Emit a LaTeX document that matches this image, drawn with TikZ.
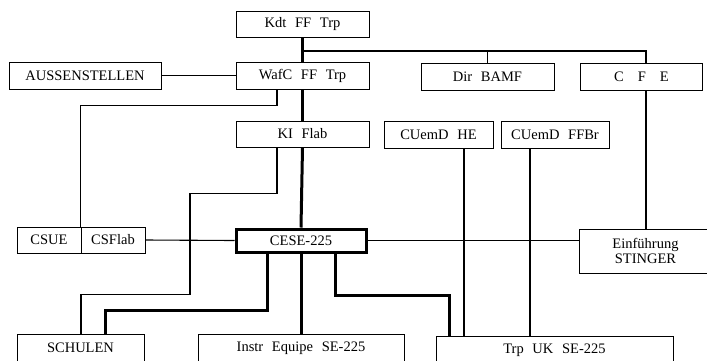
\documentclass[tikz,border=0pt]{standalone}
\usepackage{fontspec}
\setmainfont{Liberation Serif}[WordSpace=2.4]
\begin{document}
\begin{tikzpicture}[x=1pt,y=-1pt,
  box/.style={draw, line width=1pt, inner sep=0pt, minimum height=26pt,
    font=\fontsize{14.5}{17}\selectfont},
  thinline/.style={line width=1.1pt},
  thickline/.style={line width=3pt},
]
\path[use as bounding box, clip] (0,0) rectangle (707,360);
% nodes
\node[box, minimum width=133pt] (kdt) at (302.5,24) {Kdt FF Trp};
\node[box, minimum width=133pt, minimum height=27pt] (wafc) at (302.5,75.5) {WafC FF Trp};
\node[box, minimum width=152pt, minimum height=27pt] (auss) at (85,75.5) {AUSSENSTELLEN};
\node[box, minimum width=133pt, minimum height=27pt] (bamf) at (487.5,76.5) {Dir BAMF};
\node[box, minimum height=27pt, anchor=west] (cfe) at (580,76.5)
  {\makebox[122pt]{C\hspace{14pt}F\hspace{14pt}E}\hspace{40pt}};
\node[box, minimum width=133pt] (ki) at (302.5,134) {KI Flab};
\node[box, minimum width=109pt, minimum height=27pt] (he) at (438.5,134.5) {CUemD HE};
\node[box, minimum width=108pt, minimum height=27pt] (ffbr) at (555,134.5) {CUemD FFBr};
\node[box, minimum width=64pt] (csue) at (49,240) {CSUE};
\node[box, minimum width=64pt] (csflab) at (113,240) {CSFlab};
\node[box, line width=3pt, minimum width=130pt, minimum height=23pt] (cese) at (301,240.5) {CESE-225};
\node[box, minimum height=44pt, anchor=west] (einf) at (579,251)
  {\makebox[132pt]{\shortstack{Einführung\\STINGER}}\hspace{40pt}};
\node[box, minimum width=127pt, minimum height=28pt] (schulen) at (80.5,348) {SCHULEN};
\node[box, minimum width=206pt, minimum height=28pt] (instr) at (301,348) {Instr Equipe SE-225};
\node[box, minimum width=237pt, minimum height=28pt] (trpuk) at (554.5,350) {Trp UK SE-225};
\coordinate (br) at (302.5,51);
% thick spine
\draw[thickline] (kdt.south) -- (wafc.north);
\draw[thickline] (wafc.south) -- (ki.north);
\draw[thickline] (ki.south) -- (cese.north);
% branch to Dir BAMF and C F E
\draw[thinline] (br) -| ([xshift=66pt]cfe.north west);
\draw[thinline] (bamf.north |- br) -- (bamf.north);
% horizontal links
\draw[thinline] (auss.east) -- (wafc.west);
\draw[thinline] (csflab.east) -- (cese.west);
\draw[thinline] (cese.east) -- (cese.east -| einf.west);
% WafC to CSUE/CSFlab
\draw[thinline] ([xshift=-25.5pt]wafc.south) -- ++(0,16) -| (csflab.north west);
% KI Flab to SCHULEN
\draw[thinline] ([xshift=-25.5pt]ki.south) -- ++(0,46) -- ++(-87,0) -- ++(0,101)
  -| ([xshift=0.5pt]schulen.north);
% CUemD to Trp UK
\draw[thinline] ([xshift=25.5pt]he.south) -- ([xshift=25.5pt]he.south |- trpuk.north);
\draw[thinline] ([xshift=-25pt]ffbr.south) -- ([xshift=-25pt]ffbr.south |- trpuk.north);
% C F E to Einfuehrung
\draw[thinline] ([xshift=66pt]cfe.south west) -- ([xshift=66pt]cfe.south west |- einf.north);
% thick from CESE
\draw[thickline] ([xshift=-34pt]cese.south) -- ++(0,57) -| ([xshift=24.5pt]schulen.north);
\draw[thickline] (cese.south) -- (instr.north);
\draw[thickline] ([xshift=34pt]cese.south) -- ++(0,42) -| ([xshift=-105.5pt]trpuk.north);
\end{tikzpicture}
\end{document}
